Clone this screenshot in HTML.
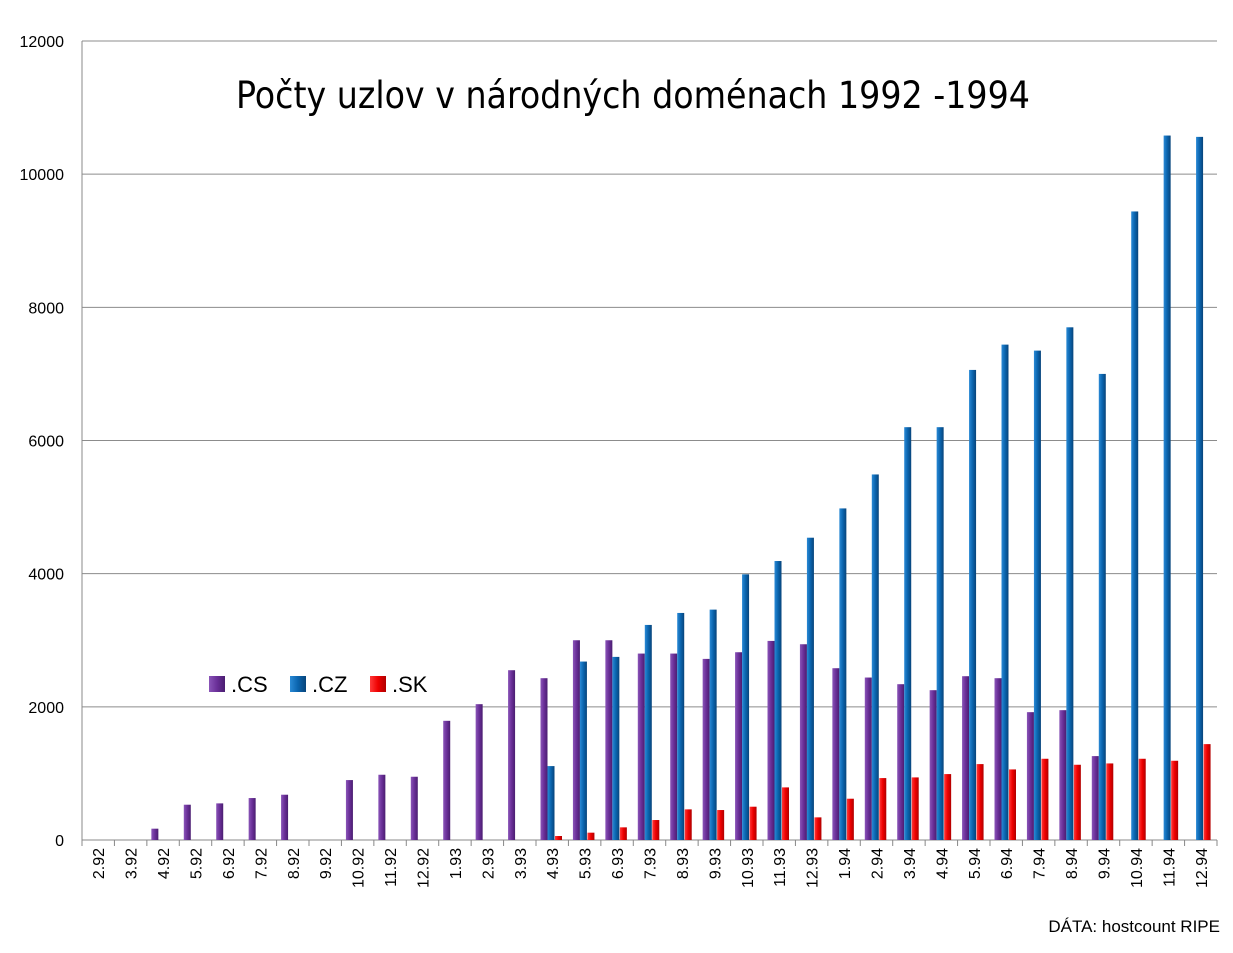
<!DOCTYPE html>
<html><head><meta charset="utf-8"><style>
body{margin:0;background:#fff;}
svg text{font-family:"Liberation Sans",sans-serif;}
</style></head><body>
<svg id="chart" width="1233" height="948">
<defs>
<linearGradient id="gcs" x1="0" x2="1"><stop offset="0" stop-color="#8a55b8"/><stop offset="0.5" stop-color="#6a2f98"/><stop offset="1" stop-color="#4a1d70"/></linearGradient>
<linearGradient id="gcz" x1="0" x2="1"><stop offset="0" stop-color="#2a8ad6"/><stop offset="0.5" stop-color="#0a64ae"/><stop offset="1" stop-color="#08447a"/></linearGradient>
<linearGradient id="gsk" x1="0" x2="1"><stop offset="0" stop-color="#ff3a3a"/><stop offset="0.5" stop-color="#ee0000"/><stop offset="1" stop-color="#b00000"/></linearGradient>
</defs>
<g id="grid"></g><g id="bars"></g><g id="xl"></g>
<text x="633" y="108" font-size="37" text-anchor="middle" fill="#000" style="font-family:'DejaVu Sans Condensed','Liberation Sans',sans-serif">Počty uzlov v národných doménach 1992 -1994</text>
<g>
<rect x="209" y="676" width="16" height="16" fill="url(#gcs)"/>
<text x="231" y="692" font-size="22">.CS</text>
<rect x="290" y="676" width="16" height="16" fill="url(#gcz)"/>
<text x="312" y="692" font-size="22">.CZ</text>
<rect x="370" y="676" width="16" height="16" fill="url(#gsk)"/>
<text x="392" y="692" font-size="22">.SK</text>
</g>
<text x="1220" y="932" font-size="17" text-anchor="end">DÁTA: hostcount RIPE</text>
</svg>
<script>
const categories=["2.92","3.92","4.92","5.92","6.92","7.92","8.92","9.92","10.92","11.92","12.92","1.93","2.93","3.93","4.93","5.93","6.93","7.93","8.93","9.93","10.93","11.93","12.93","1.94","2.94","3.94","4.94","5.94","6.94","7.94","8.94","9.94","10.94","11.94","12.94"];
const csValues=[0,0,170,530,550,630,680,0,900,980,950,1790,2040,2550,2430,3000,3000,2800,2800,2720,2820,2990,2940,2580,2440,2340,2250,2460,2430,1920,1950,1260,0,0,0];
const czValues=[0,0,0,0,0,0,0,0,0,0,0,0,0,0,1110,2680,2750,3230,3410,3460,3990,4190,4540,4980,5490,6200,6200,7060,7440,7350,7700,7000,9440,10580,10560];
const skValues=[0,0,0,0,0,0,0,0,0,0,0,0,0,0,60,110,190,300,460,450,500,790,340,620,930,940,990,1140,1060,1220,1130,1150,1220,1190,1440];
const yTicks=[0,2000,4000,6000,8000,10000,12000];
const NS="http://www.w3.org/2000/svg";
const X0=82,X1=1217,Y0=840,Y1=41,YMAX=12000;
const cw=(X1-X0)/categories.length;
const y=v=>Y0-(v/YMAX)*(Y0-Y1);
const xs=i=>X0+i*cw;
function mk(p,t,a){const e=document.createElementNS(NS,t);for(const k in a)e.setAttribute(k,a[k]);p.appendChild(e);return e;}
const grid=document.getElementById('grid'),bars=document.getElementById('bars'),xl=document.getElementById('xl');
yTicks.forEach(v=>{
 const l=mk(grid,'line',{x1:X0,x2:X1,y1:y(v),y2:y(v),stroke:v===0?'#888':'#8c8c8c','stroke-width':1});
 
 
 const t=mk(grid,'text',{x:64,y:y(v)+6,'font-size':16,'text-anchor':'end',fill:'#000'});t.textContent=v;
 
 
});
mk(grid,'line',{x1:X0,x2:X0,y1:Y1,y2:Y0,stroke:'#888'});
const series=[[csValues,'url(#gcs)',4.5,'bar-cs'],[czValues,'url(#gcz)',11.5,'bar-cz'],[skValues,'url(#gsk)',19,'bar-sk']];
categories.forEach((c,i)=>{
 const tk=mk(xl,'line',{x1:xs(i),x2:xs(i),y1:Y0,y2:Y0+6,stroke:'#888'});
 const t=mk(xl,'text',{transform:`translate(${xs(i)+cw/2+6},848) rotate(-90)`,'font-size':16,'text-anchor':'end'});
 t.textContent=c;
 
 
 series.forEach(([vals,fill,off,nm])=>{
  const v=vals[i]; if(!v)return;
  const r=mk(bars,'rect',{x:xs(i)+off,y:y(v),width:7,height:Y0-y(v),fill:fill});
  
  
 });
});
mk(xl,'line',{x1:X1,x2:X1,y1:Y0,y2:Y0+6,stroke:'#888'});
</script>
</body></html>
